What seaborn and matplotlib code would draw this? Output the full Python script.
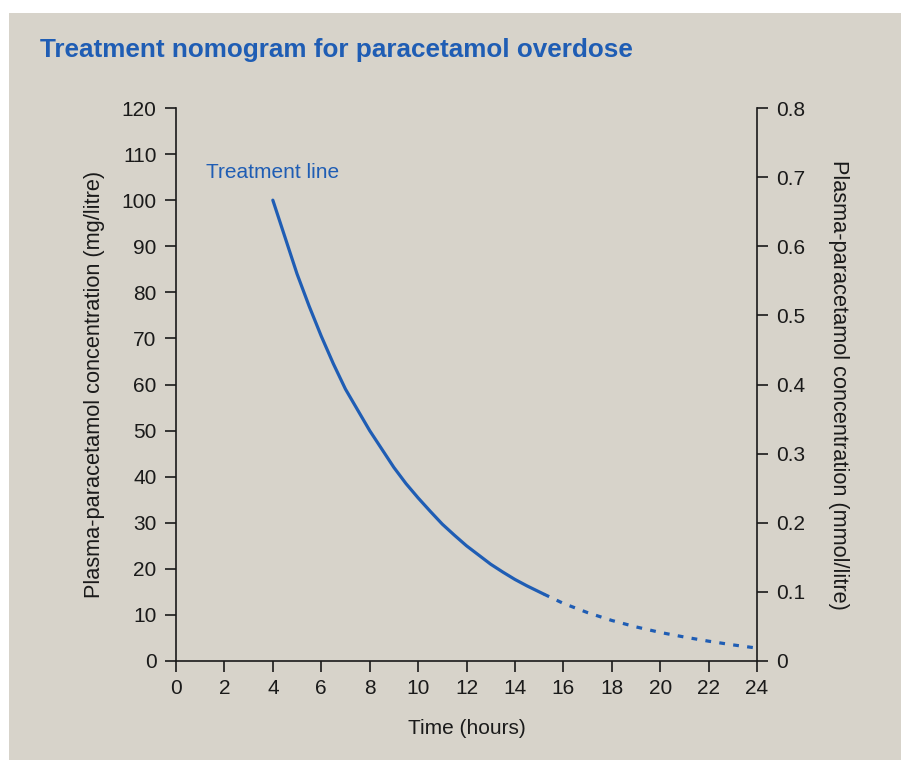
import numpy as np
import pandas as pd
import matplotlib.pyplot as plt
import seaborn as sns
from matplotlib.patches import Rectangle

# values (hours, mg/litre)
hours_solid = [4, 4.5, 5, 5.5, 6, 6.5, 7, 7.5, 8, 8.5, 9, 9.5, 10, 10.5, 11, 11.5,
               12, 12.5, 13, 13.5, 14, 14.5, 15.2]
conc_solid = [100, 92, 84, 77, 70.5, 64.5, 59, 54.5, 50, 46, 42, 38.5, 35.4, 32.5, 29.7, 27.3,
              25, 23, 21, 19.3, 17.7, 16.3, 14.5]
hours_dash = [15.2, 16, 17, 18, 19, 20, 21, 22, 23, 24]
conc_dash = [14.5, 12.5, 10.5, 8.8, 7.4, 6.2, 5.2, 4.3, 3.5, 2.8]

x_ticks = list(range(0, 25, 2))
y_ticks = list(range(0, 121, 10))
y2_ticks = [0, 0.1, 0.2, 0.3, 0.4, 0.5, 0.6, 0.7, 0.8]

BG = "#d7d3ca"
BLUE = "#1f5db4"
INK = "#1a1a1a"
FS = 15

sns.set_theme(style="ticks")
plt.rcParams['font.family'] = ['Liberation Sans', 'DejaVu Sans']

fig = plt.figure(figsize=(9.01, 7.60), dpi=100)
fig.patch.set_facecolor("white")
fig.add_artist(Rectangle((9 / 901, 0), 892 / 901, 747 / 760, transform=fig.transFigure,
                         facecolor=BG, edgecolor="none", zorder=-10))

ax = fig.add_axes([176 / 901, 1 - 661 / 760, 581 / 901, 553 / 760])
ax.set_facecolor("none")

solid = pd.DataFrame({"hours": hours_solid, "conc": conc_solid})
dash = pd.DataFrame({"hours": hours_dash, "conc": conc_dash})
sns.lineplot(data=solid, x="hours", y="conc", ax=ax, color=BLUE, lw=2.3, clip_on=False)
sns.lineplot(data=dash, x="hours", y="conc", ax=ax, color=BLUE, lw=2.3, clip_on=False)
ax.lines[-1].set_dashes((1.8, 2.6))

ax.set_xlim(0, 24)
ax.set_ylim(0, 120)
ax.set_xticks(x_ticks)
ax.set_yticks(y_ticks)
ax.spines["top"].set_visible(False)
ax.spines["right"].set_visible(False)
for s in ["left", "bottom"]:
    ax.spines[s].set_linewidth(1.2)
    ax.spines[s].set_color(INK)
ax.tick_params(axis="both", length=8, width=1.2, color=INK, labelsize=FS, labelcolor=INK)
ax.tick_params(axis="y", pad=6)
ax.tick_params(axis="x", pad=5)

ax.set_xlabel("Time (hours)", fontsize=FS, color=INK, labelpad=15)
ax.set_ylabel("Plasma-paracetamol concentration (mg/litre)", fontsize=15.7, color=INK, labelpad=12)

ax2 = ax.twinx()
ax2.set_ylim(0, 0.8)
ax2.set_yticks(y2_ticks)
ax2.set_yticklabels(["0"] + [f"{v:.1f}" for v in y2_ticks[1:]])
for s in ["top", "left", "bottom"]:
    ax2.spines[s].set_visible(False)
ax2.spines["right"].set_linewidth(1.2)
ax2.spines["right"].set_color(INK)
ax2.tick_params(axis="y", length=8, width=1.2, color=INK, labelsize=FS, labelcolor=INK, pad=6)
ax2.set_ylabel("Plasma-paracetamol concentration (mmol/litre)", fontsize=15.7, color=INK,
               rotation=270, labelpad=31)

ax.text(1.25, 106, "Treatment line", color=BLUE, fontsize=FS, va="center", ha="left")

fig.text(40 / 901, 1 - 50 / 760, "Treatment nomogram for paracetamol overdose",
         color=BLUE, fontsize=18.8, fontweight="bold", va="center", ha="left")

plt.savefig("out.png", dpi=100)
